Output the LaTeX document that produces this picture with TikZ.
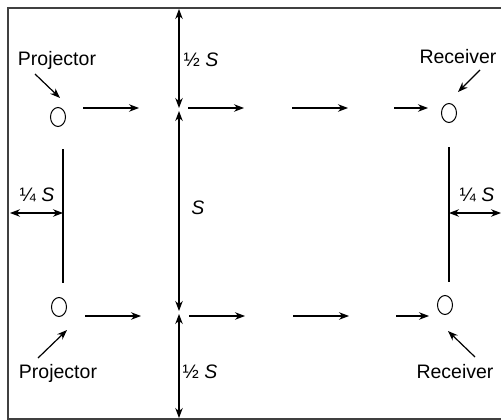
\documentclass[tikz,border=0pt]{standalone}
\usepackage{fontspec}
\setmainfont{Liberation Sans}
\usetikzlibrary{arrows.meta,shapes.geometric}
\begin{document}
\begin{tikzpicture}[x=1pt,y=-1pt,
  every node/.style={font=\fontsize{19.5}{22}\selectfont, inner sep=0pt},
  arr/.style={line width=1.2pt, -{Stealth[length=10pt,width=7.5pt]}},
  dbl/.style={line width=1.2pt, {Stealth[length=10pt,width=7.5pt]}-{Stealth[length=10pt,width=7.5pt]}},
  ln/.style={line width=1.2pt},
  frame/.style={line width=1.6pt, draw=black!75},
  dev/.style={draw, line width=1pt, ellipse, minimum width=15pt, minimum height=19pt}]
\useasboundingbox (0,0) rectangle (501,420);
% frame (no right edge)
\draw[frame] (501,8) -- (8,8) -- (8,419) -- (501,419);

% devices
\node[dev] (p1) at (58,117) {};
\node[dev] (p2) at (59,307) {};
\node[dev] (r1) at (449,113) {};
\node[dev] (r2) at (445,305) {};

% labels
\node (lp1) at (57,60) {Projector};
\node (lp2) at (58,373) {Projector};
\node (lr1) at (458,57) {Receiver};
\node (lr2) at (455,372) {Receiver};

\coordinate (lp1a) at (35,74);  \coordinate (lp1b) at (60,98);
\coordinate (lp2a) at (38,358); \coordinate (lp2b) at (67,330);
\coordinate (lr1a) at (480,70); \coordinate (lr1b) at (458,92);
\coordinate (lr2a) at (475,357);\coordinate (lr2b) at (448,331);
\draw[arr] (lp1a) -- (lp1b);
\draw[arr] (lp2a) -- (lp2b);
\draw[arr] (lr1a) -- (lr1b);
\draw[arr] (lr2a) -- (lr2b);

% beam arrows top
\coordinate (t1a) at (83,108);  \coordinate (t1b) at (139,108);
\coordinate (t2a) at (188,108); \coordinate (t2b) at (244,108);
\coordinate (t3a) at (292,108); \coordinate (t3b) at (348,108);
\coordinate (t4a) at (394,108); \coordinate (t4b) at (428,108);
\draw[arr] (t1a) -- (t1b);
\draw[arr] (t2a) -- (t2b);
\draw[arr] (t3a) -- (t3b);
\draw[arr] (t4a) -- (t4b);
% beam arrows bottom
\coordinate (b1a) at (85,316);  \coordinate (b1b) at (141,316);
\coordinate (b2a) at (189,316); \coordinate (b2b) at (245,316);
\coordinate (b3a) at (293,316); \coordinate (b3b) at (349,316);
\coordinate (b4a) at (396,316); \coordinate (b4b) at (429,316);
\draw[arr] (b1a) -- (b1b);
\draw[arr] (b2a) -- (b2b);
\draw[arr] (b3a) -- (b3b);
\draw[arr] (b4a) -- (b4b);

% vertical dimension arrows
\coordinate (v0) at (179,9);
\coordinate (v1) at (179,108);
\coordinate (v2) at (179,111);
\coordinate (v3) at (179,311);
\coordinate (v4) at (179,314);
\coordinate (v5) at (179,418);
\draw[dbl] (v0) -- (v1);
\draw[dbl] (v2) -- (v3);
\draw[dbl] (v4) -- (v5);
\node (h1) at (201,60) {½ \textit{S}};
\node (sS) at (198,208) {\textit{S}};
\node (h2) at (200,372) {½ \textit{S}};

% side lines
\coordinate (l1) at (63,149); \coordinate (l2) at (63,283);
\coordinate (rr1) at (449,147); \coordinate (rr2) at (449,282);
\draw[ln] (l1) -- (l2);
\draw[ln] (rr1) -- (rr2);

% quarter arrows
\coordinate (q1) at (10,213); \coordinate (q2) at (63,213);
\coordinate (q3) at (449,213); \coordinate (q4) at (501,213);
\draw[dbl] (q1) -- (q2);
\draw[dbl] (q3) -- (q4);
\node (ql) at (37,195) {¼ \textit{S}};
\node (qr) at (477,195) {¼ \textit{S}};
\end{tikzpicture}
\end{document}
